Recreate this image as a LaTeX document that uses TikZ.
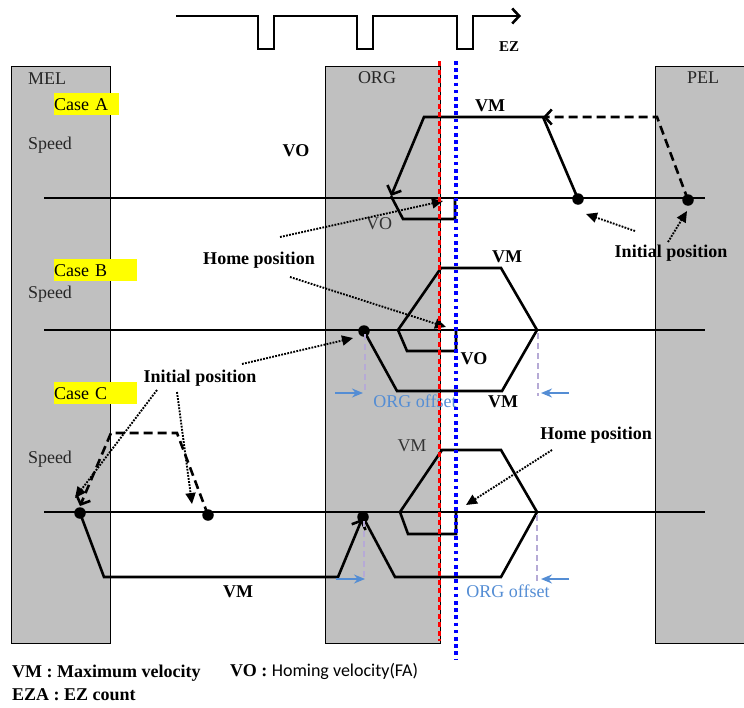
\documentclass[tikz,border=0pt]{standalone}
\usepackage{fontspec}
\setmainfont{Liberation Serif}
\newfontfamily\calfont{Carlito}
\usetikzlibrary{arrows.meta}
\definecolor{boxgray}{RGB}{192,192,192}
\definecolor{offblue}{RGB}{84,141,212}
\definecolor{lav}{RGB}{182,170,214}
\definecolor{hlyellow}{RGB}{255,255,0}
\tikzset{
  gbox/.style={draw=black, line width=1.4pt, fill=boxgray, inner sep=0pt, anchor=north west},
  axisline/.style={line width=1.3pt},
  mv/.style={line width=2.6pt, line join=miter},
  mvd/.style={mv, dash pattern=on 9pt off 5pt},
  barb/.style={-{Straight Barb[length=7pt,width=15pt]}},
  dotarr/.style={line width=1.9pt, dash pattern=on 1.8pt off 1.3pt, -{Triangle[length=11pt,width=10pt]}},
  sdot/.style={circle, fill=black, inner sep=0pt, minimum size=11.5pt},
  lbl/.style={font=\fontsize{18}{20}\selectfont, inner sep=0pt, anchor=base},
  blbl/.style={font=\fontsize{18}{20}\selectfont\bfseries, inner sep=0pt, anchor=base},
  glbl/.style={lbl, text=black!85},
  offl/.style={lav, line width=1.2pt, dash pattern=on 6pt off 4pt},
  offarr/.style={offblue, line width=1.6pt, -{Stealth[length=11pt,width=9pt]}},
  offtxt/.style={lbl, text=offblue},
  hl/.style={fill=hlyellow, inner sep=0pt, minimum height=22pt, anchor=north west,
             font=\fontsize{18}{20}\selectfont, align=left},
  redline/.style={red, line width=3.8pt, dash pattern=on 5pt off 3.5pt},
  blueline/.style={blue, line width=3.4pt, dash pattern=on 3.6pt off 3.6pt},
}
\begin{document}
\begin{tikzpicture}[x=1pt,y=-1pt]
\useasboundingbox (0,0) rectangle (744,707);

% ---- gray limit boxes
\node[gbox, minimum width=99pt, minimum height=577pt] (mel) at (11,66) {};
\node[gbox, minimum width=115pt, minimum height=577pt] (org) at (325,66) {};
\node[gbox, minimum width=95pt, minimum height=577pt] (pel) at (655,66) {};

% ---- EZ pulse train
\coordinate (ezS) at (176,16);
\coordinate (ezE) at (521,16);
\draw[line width=2.6pt, line join=miter, -{Straight Barb[length=7pt,width=15pt]}]
  (ezS) -- (258,16) -- (258,49) -- (274,49) -- (274,16) -- (357,16) -- (357,49)
  -- (373,49) -- (373,16) -- (457,16) -- (457,49) -- (473,49) -- (473,16) -- (ezE);
\node[blbl, font=\fontsize{15}{17}\selectfont\bfseries] (ez) at (509,51) {EZ};

% ---- axis lines
\coordinate (aL) at (44,198);  \coordinate (aR) at (705,198);
\coordinate (bL) at (44,330);  \coordinate (bR) at (705,330);
\coordinate (cL) at (44,512);  \coordinate (cR) at (705,512);
\draw[axisline] (aL) -- (aR);
\draw[axisline] (bL) -- (bR);
\draw[axisline] (cL) -- (cR);

% ---- labels of boxes and cases
\node[glbl] (melT) at (47,84) {MEL};
\node[glbl] (orgT) at (377,83) {ORG};
\node[glbl] (pelT) at (703,83) {PEL};
\node[hl, text width=65pt] (caseA) at (54,93) {Case A};
\node[hl, text width=83pt] (caseB) at (54,259) {Case B};
\node[hl, text width=83pt] (caseC) at (54,382) {Case C};
\node[glbl] (spA) at (50,149) {Speed};
\node[glbl] (spB) at (50,298) {Speed};
\node[glbl] (spC) at (50,463) {Speed};

% ================= Case A
\node[sdot] (a1) at (578,199) {};
\node[sdot] (a2) at (688,200) {};
\coordinate (aPk) at (657,117);
\coordinate (aV) at (543,117);
\coordinate (aTL) at (424,117);
\coordinate (aArr) at (391,196);
\coordinate (aB1) at (403,219);
\coordinate (aB2) at (455,219);
\coordinate (aB3) at (455,198);
\draw[mvd, barb] (a2.center) -- (aPk) -- (aV);
\draw[mv, barb] (a1.center) -- (aV) -- (aTL) -- (aArr);
\draw[mv] (aArr) -- (aB1) -- (aB2) -- (aB3);
\node[blbl] (vmA) at (490,111) {VM};
\node[blbl] (voA) at (296,156) {VO};
\node[lbl, text=black!80] (voA2) at (379,229) {VO};
\node[blbl] (initA) at (671,257) {Initial position};
\coordinate (iA1) at (635,231); \coordinate (iA1t) at (586,214);
\coordinate (iA2) at (668,242); \coordinate (iA2t) at (687,211);
\draw[dotarr] (iA1) -- (iA1t);
\draw[dotarr] (iA2) -- (iA2t);

% ================= Case B
\node[blbl] (homeB) at (259,264) {Home position};
\coordinate (hA) at (280,237); \coordinate (hAt) at (443,201);
\coordinate (hB) at (290,277); \coordinate (hBt) at (446,327);
\draw[dotarr] (hA) -- (hAt);
\draw[dotarr] (hB) -- (hBt);
\node[sdot] (b1) at (364,331) {};
\draw[mv] (b1.center) -- (397,391) -- (502,391) -- (537,330) -- (501,268) -- (441,268)
  -- (398,330) -- (407,351) -- (456,351) -- (456,331);
\node[blbl] (vmB1) at (507,262) {VM};
\node[blbl] (voB) at (474,364) {VO};
\node[blbl] (vmB2) at (503,407) {VM};
\coordinate (obL1) at (365,334); \coordinate (obL2) at (365,392);
\coordinate (obR1) at (538,333); \coordinate (obR2) at (538,396);
\draw[offl] (obL1) -- (obL2);
\draw[offl] (obR1) -- (obR2);
\coordinate (oaL) at (335,393); \coordinate (oaLt) at (363,393);
\coordinate (oaR) at (569,393); \coordinate (oaRt) at (541,393);
\draw[offarr] (oaL) -- (oaLt);
\draw[offarr] (oaR) -- (oaRt);
\node[offtxt] (offB) at (415,407) {ORG offset};

% ================= Case C
\node[blbl] (initBC) at (200,382) {Initial position};
\node[sdot] (c1) at (80,513) {};
\node[sdot] (c2) at (208,515) {};
\node[sdot] (c3) at (363,517) {};
\coordinate (cD1) at (177,433);
\coordinate (cD2) at (111,433);
\coordinate (cDt) at (80,506);
\draw[mvd, barb] (c2.center) -- (cD1) -- (cD2) -- (cDt);
\coordinate (cArr) at (362,519);
\draw[mv, barb] (c1.center) -- (104,577) -- (338,577) -- (cArr);
\draw[mv] (c3.center) -- (395,577) -- (501,577) -- (537,512) -- (501,450) -- (442,450)
  -- (400,512) -- (408,534) -- (456,534) -- (456,512);
\coordinate (iB) at (242,364); \coordinate (iBt) at (353,338);
\coordinate (iC1) at (157,390); \coordinate (iC1t) at (75,498);
\coordinate (iC2) at (177,392); \coordinate (iC2t) at (192,504);
\draw[dotarr] (iB) -- (iBt);
\draw[dotarr] (iC1) -- (iC1t);
\draw[dotarr] (iC2) -- (iC2t);
\node[lbl, text=black!80] (vmC1) at (412,451) {VM};
\node[blbl] (homeC) at (596,439) {Home position};
\coordinate (hC) at (552,450); \coordinate (hCt) at (466,505);
\draw[dotarr] (hC) -- (hCt);
\node[blbl] (vmC2) at (238,597) {VM};
\coordinate (ocL1) at (364,521); \coordinate (ocL2) at (364,578);
\coordinate (ocR1) at (537,515); \coordinate (ocR2) at (537,581);
\draw[offl] (ocL1) -- (ocL2);
\draw[offl] (ocR1) -- (ocR2);
\coordinate (ocaL) at (336,579); \coordinate (ocaLt) at (365,579);
\coordinate (ocaR) at (569,579); \coordinate (ocaRt) at (541,579);
\draw[offarr] (ocaL) -- (ocaLt);
\draw[offarr] (ocaR) -- (ocaRt);
\node[offtxt] (offC) at (508,597) {ORG offset};

% ---- reference lines (on top)
\coordinate (rT) at (439.5,61); \coordinate (rB) at (439.5,641);
\coordinate (uT) at (456,61);   \coordinate (uB) at (456,660);
\draw[redline] (rT) -- (rB);
\draw[blueline] (uT) -- (uB);

% ---- legend
\node[blbl, anchor=base west] (lg1) at (12,677) {VM : Maximum velocity};
\node[blbl, anchor=base west] (lg2) at (12,700) {EZA : EZ count};
\node[lbl, anchor=base west] (lg3) at (230,676) {\bfseries VO : {\mdseries\calfont Homing velocity(FA)}};
\end{tikzpicture}
\end{document}
